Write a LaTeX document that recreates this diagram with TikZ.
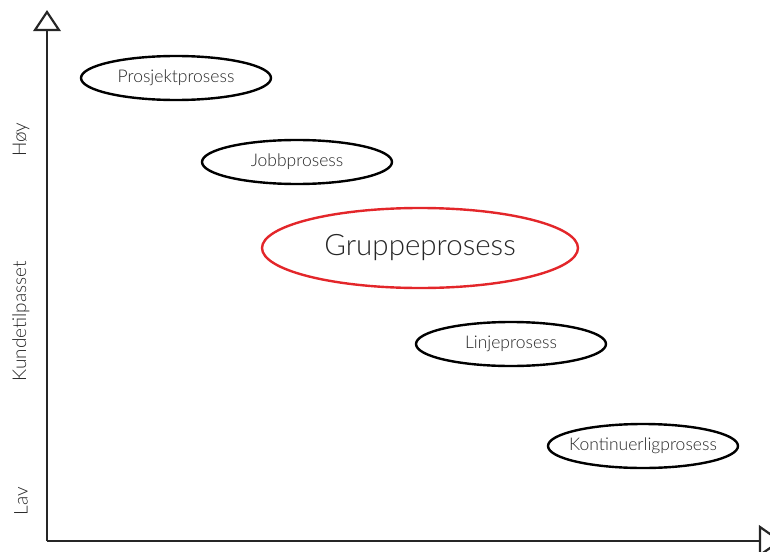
\documentclass[tikz,border=0pt]{standalone}
\usepackage{fontspec}
\setmainfont{Lato}[UprightFont=* Light]
\usetikzlibrary{shapes.geometric}
\definecolor{txt}{HTML}{262626}
\definecolor{redline}{HTML}{E3262A}
\begin{document}
\begin{tikzpicture}[x=1pt,y=-1pt,
  proc/.style={draw=black,line width=2.4pt,ellipse,inner xsep=-30pt,inner ysep=-10pt,
    minimum width=190pt,minimum height=44pt,text=txt,
    font=\fontsize{17.5}{19}\selectfont},
  axis/.style={line width=2.6pt,draw=txt},
  tri/.style={line width=2.2pt,draw=txt,fill=white,line join=miter},
  axlabel/.style={rotate=90,text=txt,font=\fontsize{19}{21}\selectfont}]
\useasboundingbox (0,0) rectangle (770,551);
% axes
\coordinate (o) at (47,541);
\coordinate (ytop) at (47,30);
\coordinate (xend) at (760,541);
\draw[axis] (o) -- (ytop);
\draw[axis] (o) -- (xend);
\draw[tri] (35,30) -- (47,12) -- (59,30) -- cycle;
\draw[tri] (760,527) -- (780,541) -- (760,555) -- cycle;
% axis labels
\node[axlabel] (hoy) at (21,140) {Høy};
\node[axlabel] (kunde) at (21,321) {Kundetilpasset};
\node[axlabel] (lav) at (21,501) {Lav};
% process types
\node[proc] (prosjekt) at (176,78) {Prosjektprosess};
\node[proc] (jobb) at (297,162) {Jobbprosess};
\node[proc,draw=redline,minimum width=316pt,minimum height=80pt,
  font=\fontsize{29.5}{32}\selectfont] (gruppe) at (420,248) {Gruppeprosess};
\node[proc] (linje) at (511,344) {Linjeprosess};
\node[proc] (kont) at (643,446) {Kontinuerligprosess};
\end{tikzpicture}
\end{document}
